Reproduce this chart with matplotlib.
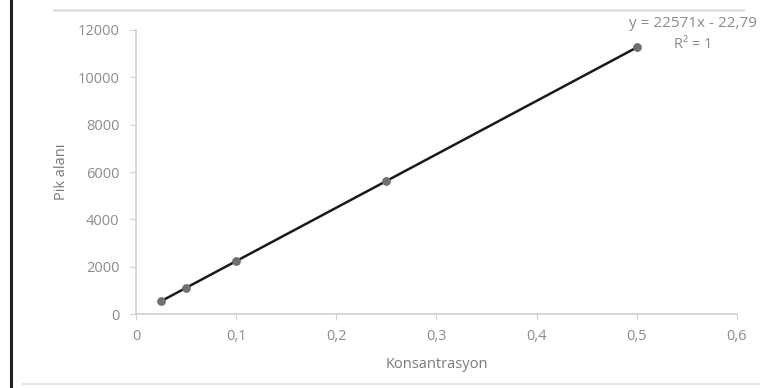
import matplotlib
matplotlib.use("Agg")
import matplotlib.pyplot as plt
from matplotlib.lines import Line2D

# calibration data
konsantrasyon = [0.025, 0.05, 0.1, 0.25, 0.5]
pik_alani = [541, 1106, 2234, 5620, 11263]
egim = 22571
kesisim = -22.79

x_ticks = [0, 0.1, 0.2, 0.3, 0.4, 0.5, 0.6]
x_labels = ["0", "0,1", "0,2", "0,3", "0,4", "0,5", "0,6"]
y_ticks = [0, 2000, 4000, 6000, 8000, 10000, 12000]

plt.rcParams['font.family'] = ['Open Sans', 'DejaVu Sans']
grey = "#8c8c8c"

fig = plt.figure(figsize=(7.66, 3.88), dpi=100)
ax = fig.add_axes([0.1775, 0.1907, 0.7846, 0.732])

# trend line through the fitted equation
x_fit = [min(konsantrasyon), max(konsantrasyon)]
y_fit = [egim * x + kesisim for x in x_fit]
ax.plot(x_fit, y_fit, color="#1a1a1a", lw=1.8, zorder=2)
ax.scatter(konsantrasyon, pik_alani, s=28, color="#707070", zorder=3)

ax.set_xlim(0, 0.6)
ax.set_ylim(0, 12000)
ax.set_xticks(x_ticks)
ax.set_xticklabels(x_labels)
ax.set_yticks(y_ticks)

for side in ["top", "right"]:
    ax.spines[side].set_visible(False)
for side in ["left", "bottom"]:
    ax.spines[side].set_color("#d0d0d0")
    ax.spines[side].set_linewidth(1.2)

ax.tick_params(axis="both", colors="#d0d0d0", labelcolor=grey, labelsize=10.5, length=4)
ax.tick_params(axis="x", pad=7)
ax.tick_params(axis="y", pad=8)

ax.set_xlabel("Konsantrasyon", color="#7a7a7a", fontsize=10.5, labelpad=9)
ax.set_ylabel("Pik alanı", color="#7a7a7a", fontsize=10.5, labelpad=6)

fig.text(0.905, 0.93, "y = 22571x - 22,79", color="#8a8a8a", fontsize=11, ha="center")
fig.text(0.905, 0.875, "R² = 1", color="#8a8a8a", fontsize=10.5, ha="center")

# page edges around the chart
fig.add_artist(Line2D([0.014, 0.014], [0.0, 1.0], color="#222222", lw=2.2))
fig.add_artist(Line2D([0.07, 0.97], [0.975, 0.975], color="#e2e2e2", lw=2))
fig.add_artist(Line2D([0.03, 0.99], [0.01, 0.01], color="#e6e6e6", lw=1.5))

fig.savefig("out.png", dpi=100)
